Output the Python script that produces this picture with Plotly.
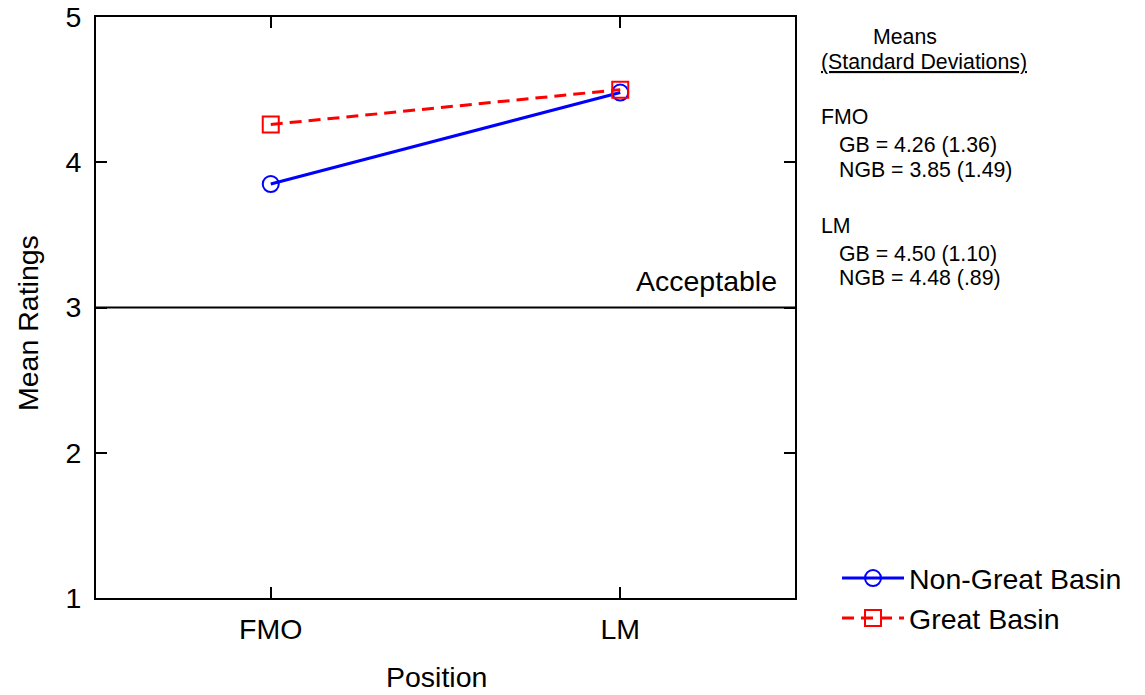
import plotly.graph_objects as go

positions = ["FMO", "LM"]
ngb_means = [3.85, 4.48]
gb_means = [4.26, 4.50]
ngb_sds = [1.49, 0.89]
gb_sds = [1.36, 1.10]
y_ticks = [1, 2, 3, 4, 5]
acceptable_level = 3

FONT = "Liberation Sans, Arial, sans-serif"
FS = 28.5

# plot area in pixels
W, H = 1145, 695
L, R, T, B = 96, 795, 17, 598


def px(x):
    return (x - L) / (R - L)


def py(y):
    return (B - y) / (B - T)


def fmt_sd(v):
    s = f"{v:.2f}"
    return s[1:] if s.startswith("0") else s


fig = go.Figure()
fig.add_trace(go.Scatter(
    x=positions, y=ngb_means, name="Non-Great Basin", mode="lines+markers",
    line=dict(color="#0000ff", width=3),
    marker=dict(symbol="circle-open", size=16, color="#0000ff", line=dict(width=2)),
))
fig.add_trace(go.Scatter(
    x=positions, y=gb_means, name="Great Basin", mode="lines+markers",
    line=dict(color="#ff0000", width=3, dash="12px,7px"),
    marker=dict(symbol="square-open", size=16, color="#ff0000", line=dict(width=2)),
))

fig.add_shape(type="line", xref="paper", yref="y", x0=0, x1=1,
              y0=acceptable_level, y1=acceptable_level,
              line=dict(color="black", width=2))
fig.add_annotation(xref="paper", yref="y", x=px(779), y=acceptable_level,
                   text="Acceptable", showarrow=False, xanchor="right", yanchor="bottom",
                   yshift=9, font=dict(size=FS, color="black", family=FONT))

# axis titles
fig.add_annotation(xref="paper", yref="paper", x=px(28), y=py(323), text="Mean Ratings",
                   textangle=-90, showarrow=False, xanchor="center", yanchor="middle",
                   font=dict(size=FS, color="black", family=FONT))
fig.add_annotation(xref="paper", yref="paper", x=px(436), y=py(677), text="Position",
                   showarrow=False, xanchor="center", yanchor="middle",
                   font=dict(size=FS, color="black", family=FONT))

ann_font = dict(size=21.3, color="black", family=FONT)
lines = [
    ("Means", 905, 37, "center"),
    ("<u>(Standard Deviations)</u>", 819, 62, "left"),
    (positions[0], 819, 117, "left"),
    (f"GB = {gb_means[0]:.2f} ({fmt_sd(gb_sds[0])})", 837, 145, "left"),
    (f"NGB = {ngb_means[0]:.2f} ({fmt_sd(ngb_sds[0])})", 837, 170, "left"),
    (positions[1], 819, 226, "left"),
    (f"GB = {gb_means[1]:.2f} ({fmt_sd(gb_sds[1])})", 837, 254, "left"),
    (f"NGB = {ngb_means[1]:.2f} ({fmt_sd(ngb_sds[1])})", 837, 278, "left"),
]
for text, x, y, anc in lines:
    fig.add_annotation(xref="paper", yref="paper", x=px(x), y=py(y), text=text,
                       showarrow=False, xanchor=anc, yanchor="middle", font=ann_font)

fig.update_layout(
    width=W, height=H,
    margin=dict(l=L, r=W - R, t=T, b=H - B, autoexpand=False),
    paper_bgcolor="white", plot_bgcolor="white",
    font=dict(family=FONT, size=FS, color="black"),
    showlegend=True,
    legend=dict(x=px(837), y=py(553), xanchor="left", yanchor="top",
                font=dict(size=FS, family=FONT), bgcolor="rgba(0,0,0,0)",
                itemwidth=62, tracegroupgap=0),
)
fig.update_xaxes(
    type="category", range=[-0.5, 1.5], showline=True, linecolor="black", linewidth=2,
    mirror="ticks", ticks="inside", ticklen=11, tickwidth=1.5, tickcolor="black",
    showgrid=False, zeroline=False, ticklabelstandoff=5,
    tickfont=dict(size=FS),
)
fig.update_yaxes(
    range=[1, 5], tickvals=y_ticks, showline=True, linecolor="black", linewidth=2,
    mirror="ticks", ticks="inside", ticklen=11, tickwidth=1.5, tickcolor="black",
    showgrid=False, zeroline=False, ticklabelstandoff=7,
    tickfont=dict(size=FS),
)

fig.write_html("out.html")
